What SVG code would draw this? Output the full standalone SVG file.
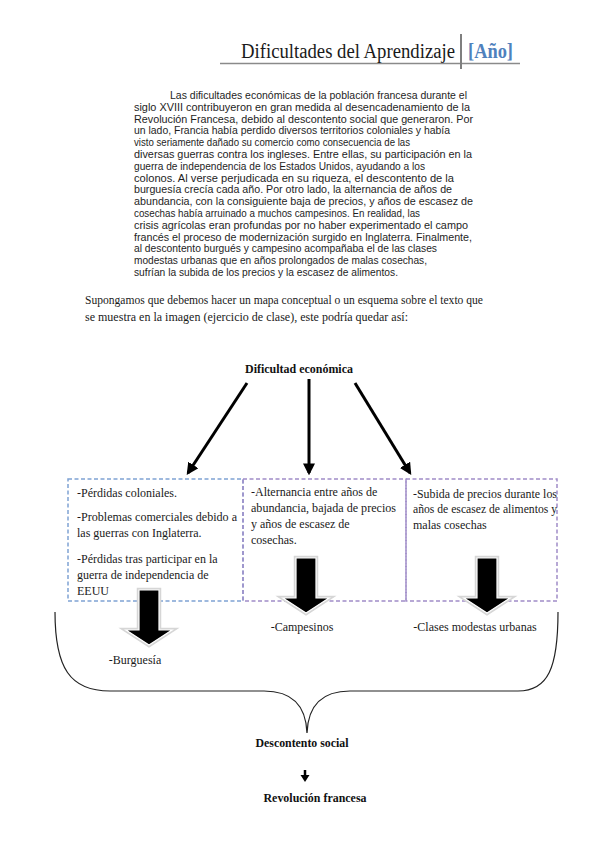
<svg xmlns="http://www.w3.org/2000/svg" xmlns:xlink="http://www.w3.org/1999/xlink" width="599" height="848" viewBox="0 0 599 848">
<style>
.hdr{font-family:"Liberation Serif",serif;font-size:20px;fill:#1a1a1a}
.yr{font-family:"Liberation Serif",serif;font-size:20px;font-weight:bold;fill:#4f81bd}
.p{font-family:"Liberation Sans",Arial,sans-serif;font-size:10.6px;fill:#1e1e1e}
.t{font-family:"Liberation Serif",serif;font-size:12.5px;fill:#1a1a1a}
.b{font-family:"Liberation Serif",serif;font-size:12px;fill:#1a1a1a}
.bold{font-family:"Liberation Serif",serif;font-size:11.5px;font-weight:bold;fill:#111}
.dashB{fill:none;stroke:#7fa3d4;stroke-width:1.5;stroke-dasharray:4 2.5}
.dashP{fill:none;stroke:#a08cc8;stroke-width:1.5;stroke-dasharray:4 2.5}
.conn{stroke:#000;stroke-width:3;fill:none}
.brace{stroke:#222;stroke-width:1.2;fill:none}
.shadow{fill:#fff;stroke:#d6d6d6;stroke-width:4.5}
.blkf{fill:#000;stroke:#fff;stroke-width:1.2}
</style>
<defs>
<marker id="ah" viewBox="0 0 10 10" refX="8" refY="5" markerWidth="4" markerHeight="4" orient="auto" markerUnits="strokeWidth">
<path d="M0,0 L10,5 L0,10 z" fill="#000"/>
</marker>
<path id="blk" d="M -10 0 H 10 V 40 H 23 L 0 55 L -23 40 H -10 Z"/>
</defs>
<rect width="599" height="848" fill="#fff"/>

<g id="header">
<line x1="220" y1="63.5" x2="520" y2="63.5" stroke="#8a8a8a" stroke-width="1.5"/>
<line x1="461" y1="34" x2="461" y2="69" stroke="#7f7f7f" stroke-width="2"/>
<text class="hdr" x="241" y="58" textLength="214" lengthAdjust="spacingAndGlyphs">Dificultades del Aprendizaje</text>
<text class="yr" x="468" y="58" textLength="45" lengthAdjust="spacingAndGlyphs">[Año]</text>
</g>

<g id="source-text">
<text class="p" x="170" y="99" textLength="297" lengthAdjust="spacingAndGlyphs">Las dificultades económicas de la población francesa durante el</text>
<text class="p" x="134" y="110.8" textLength="336" lengthAdjust="spacingAndGlyphs">siglo XVIII contribuyeron en gran medida al desencadenamiento de la</text>
<text class="p" x="134" y="122.6" textLength="339" lengthAdjust="spacingAndGlyphs">Revolución Francesa, debido al descontento social que generaron. Por</text>
<text class="p" x="134" y="134.4" textLength="316" lengthAdjust="spacingAndGlyphs">un lado, Francia había perdido diversos territorios coloniales y había</text>
<text class="p" x="134" y="146.2" textLength="276" lengthAdjust="spacingAndGlyphs">visto seriamente dañado su comercio como consecuencia de las</text>
<text class="p" x="134" y="158" textLength="338" lengthAdjust="spacingAndGlyphs">diversas guerras contra los ingleses. Entre ellas, su participación en la</text>
<text class="p" x="134" y="169.8" textLength="291" lengthAdjust="spacingAndGlyphs">guerra de independencia de los Estados Unidos, ayudando a los</text>
<text class="p" x="134" y="181.6" textLength="320" lengthAdjust="spacingAndGlyphs">colonos. Al verse perjudicada en su riqueza, el descontento de la</text>
<text class="p" x="134" y="193.4" textLength="318" lengthAdjust="spacingAndGlyphs">burguesía crecía cada año. Por otro lado, la alternancia de años de</text>
<text class="p" x="134" y="205.2" textLength="339" lengthAdjust="spacingAndGlyphs">abundancia, con la consiguiente baja de precios, y años de escasez de</text>
<text class="p" x="134" y="217" textLength="286" lengthAdjust="spacingAndGlyphs">cosechas había arruinado a muchos campesinos. En realidad, las</text>
<text class="p" x="134" y="228.8" textLength="334" lengthAdjust="spacingAndGlyphs">crisis agrícolas eran profundas por no haber experimentado el campo</text>
<text class="p" x="134" y="240.6" textLength="338" lengthAdjust="spacingAndGlyphs">francés el proceso de modernización surgido en Inglaterra. Finalmente,</text>
<text class="p" x="134" y="252.4" textLength="303" lengthAdjust="spacingAndGlyphs">al descontento burgués y campesino acompañaba el de las clases</text>
<text class="p" x="134" y="264.2" textLength="293" lengthAdjust="spacingAndGlyphs">modestas urbanas que en años prolongados de malas cosechas,</text>
<text class="p" x="134" y="276" textLength="264" lengthAdjust="spacingAndGlyphs">sufrían la subida de los precios y la escasez de alimentos.</text>
</g>

<g id="intro">
<text class="t" x="85" y="304" textLength="398" lengthAdjust="spacingAndGlyphs">Supongamos que debemos hacer un mapa conceptual o un esquema sobre el texto que</text>
<text class="t" x="85" y="321" textLength="323" lengthAdjust="spacingAndGlyphs">se muestra en la imagen (ejercicio de clase), este podría quedar así:</text>
</g>

<g id="node-dificultad">
<text class="bold" x="299" y="373" text-anchor="middle" textLength="108" lengthAdjust="spacingAndGlyphs">Dificultad económica</text>
</g>

<g id="node-box1">
<rect class="dashB" x="68" y="479" width="175" height="122"/>
<text class="b" x="77" y="497">-Pérdidas coloniales.</text>
<text class="b" x="77" y="521" textLength="160" lengthAdjust="spacingAndGlyphs">-Problemas comerciales debido a</text>
<text class="b" x="77" y="537">las guerras con Inglaterra.</text>
<text class="b" x="77" y="563">-Pérdidas tras participar en la</text>
<text class="b" x="77" y="579">guerra de independencia de</text>
<text class="b" x="77" y="595">EEUU</text>
</g>

<g id="node-box2">
<rect class="dashP" x="243" y="479" width="163" height="122"/>
<text class="b" x="251" y="496">-Alternancia entre años de</text>
<text class="b" x="251" y="512" textLength="145" lengthAdjust="spacingAndGlyphs">abundancia, bajada de precios</text>
<text class="b" x="251" y="528">y años de escasez de</text>
<text class="b" x="251" y="544">cosechas.</text>
</g>

<g id="node-box3">
<rect class="dashP" x="406" y="479" width="151" height="122"/>
<text class="b" x="413" y="498" textLength="144" lengthAdjust="spacingAndGlyphs">-Subida de precios durante los</text>
<text class="b" x="413" y="513" textLength="144" lengthAdjust="spacingAndGlyphs">años de escasez de alimentos y</text>
<text class="b" x="413" y="529">malas cosechas</text>
</g>

<g id="connectors">
<line class="conn" x1="247" y1="383" x2="188" y2="473" marker-end="url(#ah)"/>
<line class="conn" x1="309" y1="379" x2="309" y2="473" marker-end="url(#ah)"/>
<line class="conn" x1="355" y1="383" x2="410" y2="473" marker-end="url(#ah)"/>
<g id="block-arrows">
<use xlink:href="#blk" class="shadow" transform="translate(149,590)"/>
<use xlink:href="#blk" class="blkf" transform="translate(149,590)"/>
<use xlink:href="#blk" class="shadow" transform="translate(306,558)"/>
<use xlink:href="#blk" class="blkf" transform="translate(306,558)"/>
<use xlink:href="#blk" class="shadow" transform="translate(487,558)"/>
<use xlink:href="#blk" class="blkf" transform="translate(487,558)"/>
</g>
<path class="brace" d="M 55 612 C 55 668, 70 691, 110 691 L 264 691 C 292 691, 306 706, 307 733 C 308 706, 322 691, 350 691 L 518 691 C 548 691, 558 668, 558 612"/>
<line x1="305" y1="770" x2="305" y2="776" stroke="#000" stroke-width="2.5"/>
<path d="M 300.5 775 L 309.5 775 L 305 782 Z" fill="#000"/>
</g>

<g id="node-burguesia">
<text class="b" x="135" y="664" text-anchor="middle">-Burguesía</text>
</g>
<g id="node-campesinos">
<text class="b" x="302" y="631" text-anchor="middle">-Campesinos</text>
</g>
<g id="node-clases">
<text class="b" x="475" y="631" text-anchor="middle">-Clases modestas urbanas</text>
</g>
<g id="node-descontento">
<text class="bold" x="302" y="747" text-anchor="middle" textLength="93" lengthAdjust="spacingAndGlyphs">Descontento social</text>
</g>
<g id="node-revolucion">
<text class="bold" x="315" y="802" text-anchor="middle" textLength="103" lengthAdjust="spacingAndGlyphs">Revolución francesa</text>
</g>
</svg>
